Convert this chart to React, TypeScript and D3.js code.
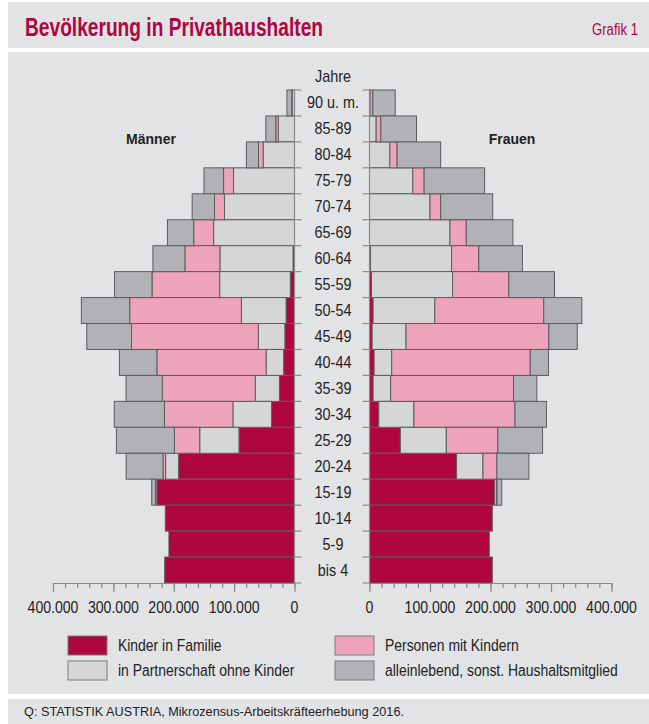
import React, { useEffect, useRef } from 'react';
import * as d3 from 'd3';

// Altersgruppen von oben nach unten
const ages = [
  '90 u. m.', '85-89', '80-84', '75-79', '70-74', '65-69', '60-64', '55-59', '50-54',
  '45-49', '40-44', '35-39', '30-34', '25-29', '20-24', '15-19', '10-14', '5-9', 'bis 4',
];

// Männer (in 1.000 Personen)
const kinderM = [0, 0, 0, 0, 0, 0, 2.5, 7, 14, 16, 18, 25, 38, 92, 192, 228, 214, 208, 215];
const partnerM = [4, 27, 52, 101, 116, 134, 121, 117, 74, 44, 29, 40, 64, 65, 21.5, 2, 0, 0, 0];
const personenM = [0.5, 4, 7.7, 16.5, 16.5, 33, 58, 112, 185, 210, 181, 154, 113.5, 42, 4.4, 0, 0, 0, 0];
const alleinM = [8, 16.5, 20, 32.5, 37, 43.5, 53, 62, 80, 74, 62, 60, 83, 96, 61, 6.5, 0, 0, 0];

// Frauen (in 1.000 Personen)
const kinderF = [0, 0, 0, 0, 0, 0, 1.7, 3.3, 6, 4.4, 7.7, 6, 15.4, 51, 144, 207, 203, 198, 203];
const partnerF = [1, 11, 33.6, 71.6, 100, 133, 134, 134, 102, 56, 29, 29, 58, 76, 43.5, 3.3, 0, 0, 0];
const personenF = [4.5, 7.7, 12, 18.7, 17.6, 27, 45, 93, 180, 236, 229, 203, 167, 85, 23, 0.5, 0, 0, 0];
const alleinF = [37, 59, 72, 100, 86, 77, 72, 75.5, 63, 47, 30, 38.6, 52, 74, 53, 7.7, 0, 0, 0];

const keys = ['kinder', 'partner', 'personen', 'allein'];
const legendLabels = [
  'Kinder in Familie',
  'in Partnerschaft ohne Kinder',
  'Personen mit Kindern',
  'alleinlebend, sonst. Haushaltsmitglied',
];
const colors: Record<string, string> = {
  kinder: '#b0063f',
  partner: '#d5d6d8',
  personen: '#eda4bb',
  allein: '#b1b2b5',
};

const majorTicks = [0, 100000, 200000, 300000, 400000];

function App() {
  const ref = useRef<SVGSVGElement>(null);

  useEffect(() => {
    document.body.style.margin = '0';
    document.body.style.overflow = 'hidden';
    if (!ref.current) return;
    const svg = d3.select(ref.current);
    svg.selectAll('*').remove();

    const font = '"Liberation Sans", Arial, sans-serif';
    const bg = '#e2e3e5';

    // condensed text: regular sans squeezed horizontally
    const label = (x: number, y: number, txt: string, size: number, anchor = 'start', sx = 0.87) =>
      svg.append('text')
        .attr('transform', `translate(${x},${y}) scale(${sx},1)`)
        .attr('text-anchor', anchor)
        .attr('font-family', font).attr('font-size', size).attr('fill', '#222')
        .text(txt);

    // background bands
    svg.append('rect').attr('x', 8).attr('y', 2).attr('width', 641).attr('height', 46).attr('fill', bg);
    svg.append('rect').attr('x', 8).attr('y', 52).attr('width', 641).attr('height', 642).attr('fill', bg);
    svg.append('rect').attr('x', 8).attr('y', 699).attr('width', 641).attr('height', 25).attr('fill', bg);

    svg.append('text')
      .attr('x', 25).attr('y', 36)
      .attr('font-family', font).attr('font-weight', 'bold').attr('font-size', 26)
      .attr('fill', '#b0063f')
      .attr('textLength', 298).attr('lengthAdjust', 'spacingAndGlyphs')
      .text('Bevölkerung in Privathaushalten');

    svg.append('text')
      .attr('x', 638).attr('y', 35).attr('text-anchor', 'end')
      .attr('font-family', font).attr('font-size', 16)
      .attr('fill', '#b0063f')
      .attr('textLength', 46).attr('lengthAdjust', 'spacingAndGlyphs')
      .text('Grafik 1');

    // scales
    const y = d3.scaleBand().domain(ages).range([90, 583]).padding(0);
    const xL = d3.scaleLinear().domain([0, 400000]).range([294.5, 53]);
    const xR = d3.scaleLinear().domain([0, 400000]).range([369.5, 611.5]);

    const rows = (k: number[], p: number[], pe: number[], a: number[]) =>
      ages.map((age, i) => ({
        age,
        kinder: k[i] * 1000,
        partner: p[i] * 1000,
        personen: pe[i] * 1000,
        allein: a[i] * 1000,
      }));

    const stack = d3.stack<any>().keys(keys);
    const menStack = stack(rows(kinderM, partnerM, personenM, alleinM));
    const womenStack = stack(rows(kinderF, partnerF, personenF, alleinF));

    const drawSide = (series: d3.Series<any, string>[], side: 'L' | 'R') => {
      const g = svg.append('g');
      series.forEach((s) => {
        g.selectAll(null)
          .data(s.filter((d) => d[1] - d[0] > 0))
          .enter()
          .append('rect')
          .attr('x', (d) => (side === 'L' ? xL(d[1]) : xR(d[0])))
          .attr('y', (d) => y(d.data.age)!)
          .attr('width', (d) => (side === 'L' ? xL(d[0]) - xL(d[1]) : xR(d[1]) - xR(d[0])))
          .attr('height', y.bandwidth())
          .attr('fill', colors[s.key])
          .attr('stroke', '#5c5c5e')
          .attr('stroke-width', 1);
      });
    };
    drawSide(menStack, 'L');
    drawSide(womenStack, 'R');

    // vertical axes with ticks at row boundaries
    const bounds = ages.map((a) => y(a)!).concat([583]);
    const axisColor = '#8a8b8d';
    [xL(0), xR(0)].forEach((x0, i) => {
      svg.append('line')
        .attr('x1', x0).attr('x2', x0).attr('y1', 89.5).attr('y2', 583)
        .attr('stroke', axisColor).attr('stroke-width', 1.2);
      svg.selectAll(null)
        .data(bounds)
        .enter()
        .append('line')
        .attr('x1', x0)
        .attr('x2', i === 0 ? x0 + 7 : x0 - 7)
        .attr('y1', (d) => d)
        .attr('y2', (d) => d)
        .attr('stroke', axisColor)
        .attr('stroke-width', 1.2);
    });

    // age labels
    label(333, 82, 'Jahre', 16, 'middle', 0.9);
    ages.forEach((a) => label(333, y(a)! + y.bandwidth() / 2 + 5.5, a, 16, 'middle', 0.9));

    svg.append('text')
      .attr('x', 151).attr('y', 144).attr('text-anchor', 'middle')
      .attr('font-family', font).attr('font-weight', 'bold')
      .attr('font-size', 14).attr('fill', '#222')
      .text('Männer');
    svg.append('text')
      .attr('x', 512).attr('y', 144).attr('text-anchor', 'middle')
      .attr('font-family', font).attr('font-weight', 'bold')
      .attr('font-size', 14).attr('fill', '#222')
      .text('Frauen');

    // x axes
    const de = d3.formatLocale({ decimal: ',', thousands: '.', grouping: [3], currency: ['', '€'] });
    const fmt = de.format(',');
    const minor = d3.range(0, 400001, 20000);

    [xL, xR].forEach((sc) => {
      const gMinor = svg.append('g').attr('transform', 'translate(0,583)')
        .call(d3.axisBottom(sc).tickValues(minor).tickSize(5).tickSizeOuter(0).tickFormat(() => ''));
      const gMajor = svg.append('g').attr('transform', 'translate(0,583)')
        .call(d3.axisBottom(sc).tickValues(majorTicks).tickSize(9).tickSizeOuter(0).tickFormat(() => ''));
      [gMinor, gMajor].forEach((g) => {
        g.selectAll('path, line').attr('stroke', axisColor).attr('stroke-width', 1.2);
      });
      majorTicks.forEach((t) => label(sc(t), 613, fmt(t), 16, 'middle', 0.88));
    });

    // legend
    const legendPos = [
      { x: 68, y: 636 },
      { x: 68, y: 661 },
      { x: 335, y: 636 },
      { x: 335, y: 661 },
    ];
    keys.forEach((k, i) => {
      const p = legendPos[i];
      svg.append('rect')
        .attr('x', p.x).attr('y', p.y).attr('width', 39).attr('height', 19)
        .attr('fill', colors[k]).attr('stroke', '#7a7b7d').attr('stroke-width', 1);
      label(p.x + 50, p.y + 15, legendLabels[i], 16, 'start', 0.87);
    });

    // source
    svg.append('text')
      .attr('x', 24).attr('y', 716)
      .attr('font-family', font).attr('font-size', 13).attr('fill', '#222')
      .attr('textLength', 380).attr('lengthAdjust', 'spacingAndGlyphs')
      .text('Q: STATISTIK AUSTRIA, Mikrozensus-Arbeitskräfteerhebung 2016.');
  }, []);

  return <svg ref={ref} width={649} height={724} style={{ display: 'block', background: '#fff' }} />;
}

export default App;
